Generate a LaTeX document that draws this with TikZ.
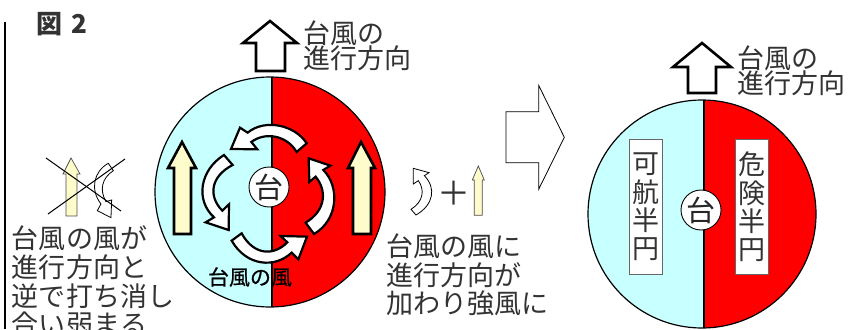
\documentclass[tikz,border=0pt]{standalone}
\usepackage{fontspec}
\setmainfont{Noto Sans CJK JP}
\newfontfamily\windfont[FakeBold=0.6]{Noto Sans CJK JP}
\definecolor{halfsafe}{RGB}{200,255,255}
\begin{document}
\begin{tikzpicture}[x=1pt,y=-1pt,
  txt/.style={inner sep=0pt,outer sep=0pt,text=black!80,font=\fontsize{27}{28.6}\selectfont,align=left,anchor=north west},
  dirtxt/.style={txt,font=\fontsize{27}{25}\selectfont},
  vtxt/.style={draw=black!60,line width=.8pt,fill=white,inner sep=0pt,minimum width=33.5pt,minimum height=135.5pt,text=black!80,font=\fontsize{27}{28.3}\selectfont,align=center},
  tai/.style={circle,draw=black,line width=.9pt,fill=white,minimum size=40pt,inner sep=0pt,text=black!85,font=\fontsize{29}{30}\selectfont},
  bigup/.style={draw=black,line width=2.6pt,fill=white,miter limit=10},
  yellowthick/.style={draw=black,line width=2.6pt,fill=yellow!20!white},
  yellowthin/.style={draw=black!70,line width=.7pt,fill=yellow!20!white},
  swirl/.style={draw=black,line width=2.2pt,fill=white},
  thinswirl/.style={draw=black,line width=.8pt,fill=white},
  cross/.style={draw=black,line width=1pt},
  diskedge/.style={draw=black,line width=1.2pt},
  divider/.style={draw=black,line width=1.8pt}]
\useasboundingbox (0,0) rectangle (861,329);
\clip (0,0) rectangle (861,329);
\fill[white] (0,0) rectangle (861,329);
% frame line and title
\draw[line width=2pt] (5,22) -- (5,329);
\node[txt,font=\fontsize{26}{28}\selectfont\bfseries,anchor=base west] (fig) at (36,34) {図\kern 10pt 2};
% left disk
\coordinate (cL) at (270,192);
\fill[halfsafe] (cL) circle (115);
\begin{scope}
\clip (cL) circle (115);
\fill[red] (272,70) rectangle (390,310);
\draw[divider] (272,70) -- (272,310);
\end{scope}
\draw[diskedge] (cL) circle (115);
% right disk
\coordinate (cR) at (702,214);
\fill[halfsafe] (cR) circle (114);
\begin{scope}
\clip (cR) circle (114);
\fill[red] (704,95) rectangle (820,329);
\draw[divider] (704,95) -- (704,329);
\end{scope}
\draw[diskedge] (cR) circle (114);
% direction arrows
\draw[bigup] (270,21) -- (297,43) -- (285,43) -- (285,71) -- (256,71) -- (256,43) -- (243,43) -- cycle;
\draw[bigup] (702,43) -- (731,67) -- (716,67) -- (716,93) -- (688,93) -- (688,67) -- (673,67) -- cycle;
\node[dirtxt] (dirL) at (303,21) {台風の\\進行方向};
\node[dirtxt] (dirR) at (737,46) {台風の\\進行方向};
% yellow arrows
\draw[yellowthick] (182,142) -- (196,168) -- (191,168) -- (191,234) -- (174,234) -- (174,168) -- (168,168) -- cycle;
\draw[yellowthick] (361,142) -- (375,168) -- (371,168) -- (371,234) -- (353,234) -- (353,168) -- (348,168) -- cycle;
\draw[yellowthin] (71,158) -- (80,174) -- (77,174) -- (77,216) -- (66,216) -- (66,174) -- (63,174) -- cycle;
\draw[yellowthin] (478.3,166) -- (484.3,180) -- (482.3,180) -- (482.3,215.3) -- (474.3,215.3) -- (474.3,180) -- (472.3,180) -- cycle;
% swirl arrows, in 3x crop coordinates
\begin{scope}[shift={(150,80)},x=.3333pt,y=-.3333pt]
\draw[swirl] (470,190) .. controls (435,135) and (345,115) .. (293,158) -- (270,143) -- (243,207) -- (322,208) -- (304,186) .. controls (345,155) and (410,165) .. (440,216) -- cycle;
\draw[swirl] (222,225) .. controls (150,270) and (135,360) .. (192,412) -- (167,427) -- (236,450) -- (237,373) -- (217,392) .. controls (175,350) and (180,290) .. (248,255) -- cycle;
\draw[swirl] (245,482) .. controls (290,560) and (375,565) .. (425,518) -- (445,538) -- (471,470) -- (392,468) -- (412,487) .. controls (370,530) and (310,525) .. (275,460) -- cycle;
\draw[swirl] (492,462) .. controls (565,420) and (570,320) .. (520,270) -- (541,257) -- (476,235) -- (478,306) -- (497,290) .. controls (530,330) and (530,390) .. (467,428) -- cycle;
\end{scope}
\begin{scope}[x=.3333pt,y=-.3333pt]
\draw[thinswirl] (325,490) .. controls (280,515) and (270,570) .. (303,612) -- (292,632) -- (333,653) -- (335,600) -- (318,605) .. controls (298,570) and (305,535) .. (340,512) -- cycle;
\end{scope}
\begin{scope}[shift={(380,60)},x=.3333pt,y=-.3333pt]
\draw[thinswirl] (108,465) .. controls (160,435) and (170,385) .. (133,347) -- (147,338) -- (100,325) -- (100,372) -- (115,362) .. controls (135,390) and (130,425) .. (93,448) -- cycle;
\draw[thinswirl] (378,155) -- (476,155) -- (476,76) -- (553,232) -- (476,388) -- (476,308) -- (378,308) -- cycle;
\end{scope}
% cross
\draw[cross] (46,158) -- (121,211);
\draw[cross] (125,159) -- (48,214);
% centre marks
\node[tai] (taiL) at (269,187) {台};
\node[tai] (taiR) at (701,210) {台};
% labels
\node[txt,font=\windfont\fontsize{21}{22}\selectfont,text=black,anchor=center] (wind) at (250,277) {台風の風};
\node[txt] (noteL) at (12,226) {台風の風が\\進行方向と\\逆で打ち消し\\合い弱まる};
\node[txt] (noteR) at (386,234) {台風の風に\\進行方向が\\加わり強風に};
\node[txt,anchor=center,font=\fontsize{33}{34}\selectfont] (plus) at (454,193) {＋};
\node[vtxt] (safe) at (646,207) {可\\航\\半\\円};
\node[vtxt] (danger) at (752,207) {危\\険\\半\\円};
\end{tikzpicture}
\end{document}
